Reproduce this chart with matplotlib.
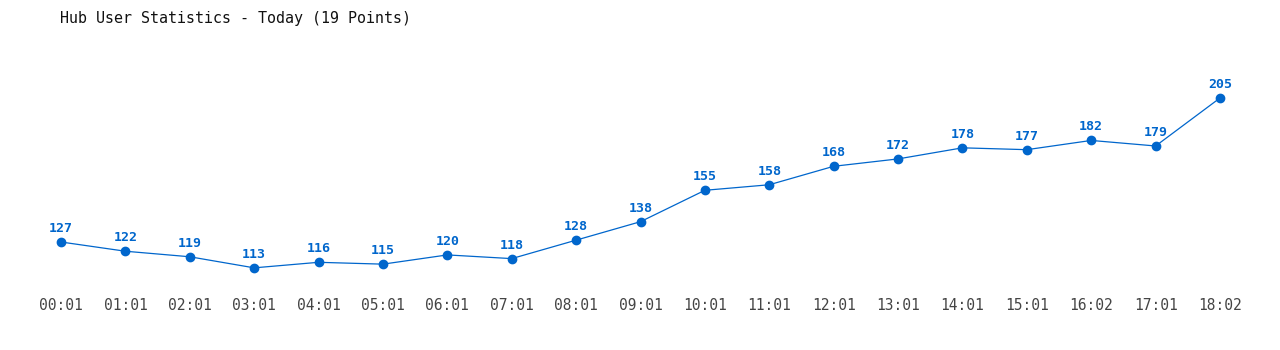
import matplotlib.pyplot as plt

times = ["00:01", "01:01", "02:01", "03:01", "04:01", "05:01", "06:01", "07:01",
         "08:01", "09:01", "10:01", "11:01", "12:01", "13:01", "14:01", "15:01",
         "16:02", "17:01", "18:02"]
users = [127, 122, 119, 113, 116, 115, 120, 118, 128, 138, 155, 158, 168, 172,
         178, 177, 182, 179, 205]

blue = '#0066cc'

fig = plt.figure(figsize=(12.8, 3.5), dpi=100)
# axes from pixel y=40 to y=290 (top-origin)
axes = fig.add_axes([0, 60 / 350, 1, 250 / 350])
xs = list(range(len(users)))
axes.plot(xs, users, color=blue, linewidth=0.9, marker='o', markersize=6)

for x, v in zip(xs, users):
    axes.annotate(str(v), (x, v), xytext=(0, 5), textcoords='offset points',
                  ha='center', va='bottom', color=blue, fontsize=9.5,
                  fontweight='bold', family='DejaVu Sans Mono')

axes.set_xlim(-61 / 64.39, (1280 - 61) / 64.39)
axes.set_ylim(101, 236.4)
axes.set_xticks(xs)
axes.set_xticklabels(times, family='DejaVu Sans Mono', fontsize=10.5, color='#444444')
axes.tick_params(axis='x', length=0, pad=6)
axes.set_yticks([])
for s in axes.spines.values():
    s.set_visible(False)

fig.text(60 / 1280, 1 - 18 / 350, "Hub User Statistics - Today (19 Points)",
         ha='left', va='center', family='DejaVu Sans Mono', fontsize=10.8,
         color='#111111')

fig.savefig('out.png', dpi=100)
